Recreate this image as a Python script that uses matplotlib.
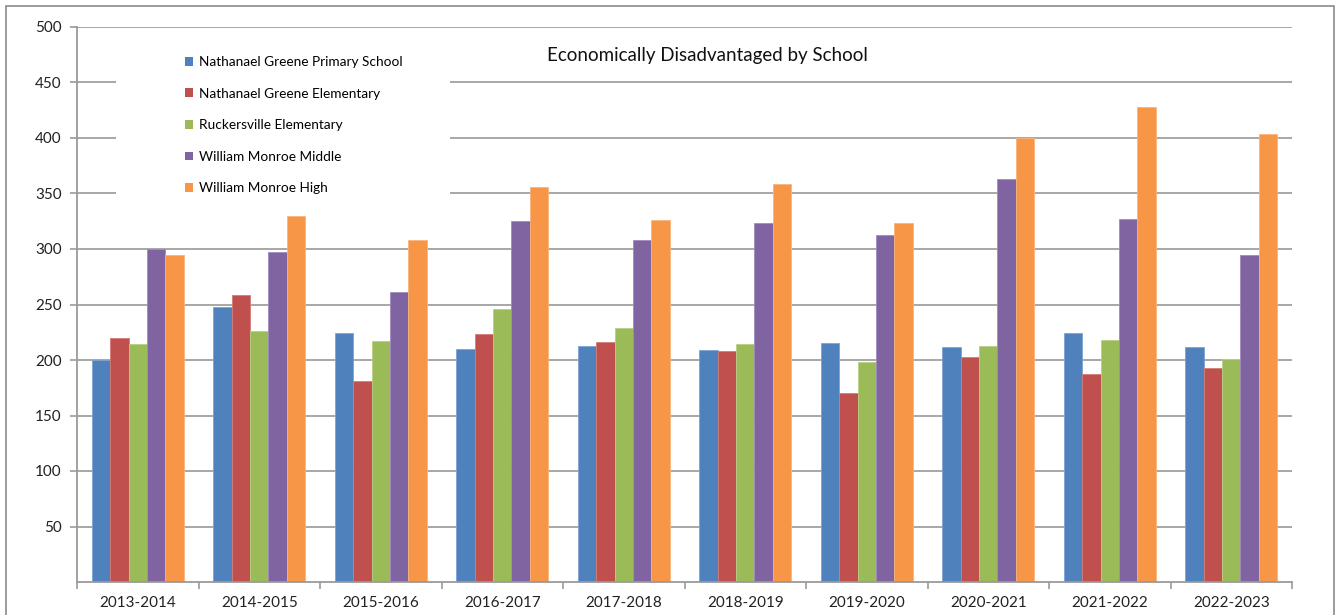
import matplotlib
matplotlib.use("Agg")
import matplotlib.pyplot as plt
from matplotlib.patches import Rectangle
import numpy as np

plt.rcParams['font.family'] = ['Lato', 'DejaVu Sans']

years = ["2013-2014", "2014-2015", "2015-2016", "2016-2017", "2017-2018",
         "2018-2019", "2019-2020", "2020-2021", "2021-2022", "2022-2023"]
series_names = ["Nathanael Greene Primary School", "Nathanael Greene Elementary",
                "Ruckersville Elementary", "William Monroe Middle", "William Monroe High"]
ng_primary = [200, 248, 224, 210, 213, 209, 215, 212, 224, 212]
ng_elem = [220, 259, 181, 223, 216, 208, 170, 203, 187, 193]
ruckersville = [214, 226, 217, 246, 229, 214, 198, 213, 218, 201]
wm_middle = [300, 297, 261, 325, 308, 323, 313, 363, 327, 295]
wm_high = [295, 330, 308, 356, 326, 359, 323, 400, 428, 404]
yticks = [50, 100, 150, 200, 250, 300, 350, 400, 450, 500]

colors = ["#4F81BD", "#C0504D", "#9BBB59", "#8064A2", "#F79646"]
edges = ["#7FA3D3", "#D47B78", "#B8D083", "#A08BBF", "#F9B47E"]

W, H = 1343, 615
fig = plt.figure(figsize=(W / 100, H / 100), dpi=100)
ax = fig.add_axes([77 / W, (H - 582) / H, (1292 - 77) / W, (582 - 27) / H])

data = [ng_primary, ng_elem, ruckersville, wm_middle, wm_high]
x = np.arange(len(years))
bw = 0.152
for i, (vals, c, ec, name) in enumerate(zip(data, colors, edges, series_names)):
    ax.bar(x + (i - 2) * bw, vals, width=bw, color=c, edgecolor=ec, linewidth=0.6,
           label=name, zorder=2)

ax.set_xlim(-0.5, len(years) - 0.5)
ax.set_ylim(0, 500)
ax.set_yticks(yticks)
ax.set_yticklabels([str(v) for v in yticks], fontsize=11, color="#222222")
ax.set_xticks(x)
ax.set_xticklabels(years, fontsize=11, color="#222222")
ax.tick_params(axis='x', which='major', length=0, pad=10)
ax.set_xticks(np.arange(-0.5, len(years), 1.0), minor=True)
ax.tick_params(axis='x', which='minor', length=5, width=1.2, color="#9a9a9a", direction='out')
ax.tick_params(axis='y', length=5, width=1.2, color="#9a9a9a", direction='out', pad=6)

ax.set_axisbelow(True)
ax.yaxis.grid(True, color="#a0a0a0", linewidth=1.3)
for s in ['top', 'right']:
    ax.spines[s].set_visible(False)
for s in ['left', 'bottom']:
    ax.spines[s].set_color("#9a9a9a")
    ax.spines[s].set_linewidth(1.3)

# white legend backdrop hiding gridlines
ax.add_patch(Rectangle((116 / W, (H - 200) / H), (450 - 116) / W, (200 - 40) / H,
                       transform=fig.transFigure, facecolor="white", edgecolor="none",
                       zorder=1))

leg = ax.legend(loc='upper left', bbox_to_anchor=(185 / W, (H - 56) / H),
                bbox_transform=fig.transFigure, frameon=False, fontsize=9.8,
                handlelength=0.6, handleheight=0.6, handletextpad=0.4,
                labelspacing=1.44, borderpad=0, borderaxespad=0)
for h in leg.legend_handles:
    h.set_edgecolor("none")

fig.text(707 / W, (H - 55) / H, "Economically Disadvantaged by School",
         ha='center', va='center', fontsize=13.5, color="#111111")

# outer chart border
fig.add_artist(Rectangle((6 / W, -0.05), (1334 - 6) / W, (H - 6) / H + 0.05,
                         transform=fig.transFigure, facecolor="none",
                         edgecolor="#8a8a8a", linewidth=1.2))

fig.savefig("out.png", dpi=100)
